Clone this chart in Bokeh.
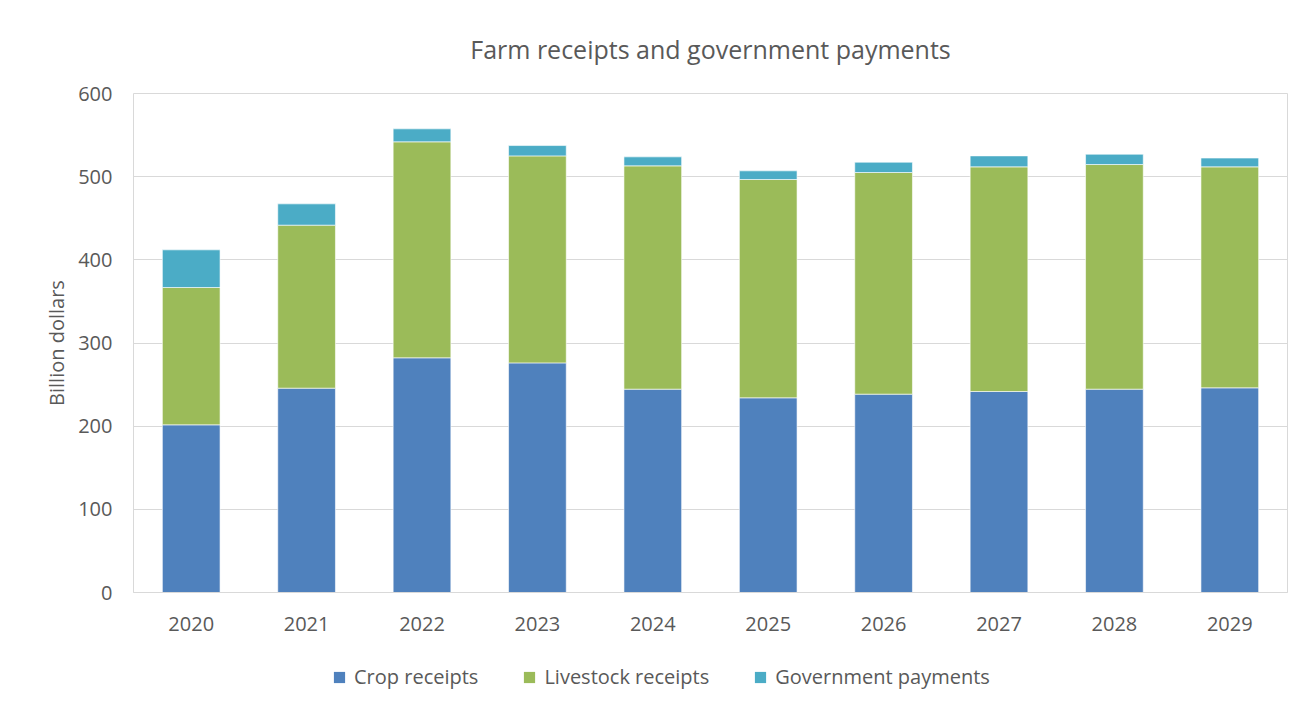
from bokeh.plotting import figure
from bokeh.layouts import column
from bokeh.models import FactorRange, Range1d, FixedTicker, Legend, LegendItem, Title
from bokeh.embed import file_html
from bokeh.resources import INLINE

years = ["2020", "2021", "2022", "2023", "2024", "2025", "2026", "2027", "2028", "2029"]
crop = [201.6, 245.7, 282.2, 276.1, 244.5, 234.1, 238.5, 241.7, 244.5, 246.1]
livestock = [165.1, 196.0, 259.7, 248.9, 268.5, 262.5, 266.5, 270.1, 270.1, 265.7]
government = [45.3, 25.6, 15.6, 12.4, 10.8, 10.4, 12.4, 13.2, 12.4, 10.6]
series = ["Crop receipts", "Livestock receipts", "Government payments"]
colors = ["#4F81BD", "#9BBB59", "#4BACC6"]
y_ticks = [0, 100, 200, 300, 400, 500, 600]

FONT = "Open Sans"
TXT = "#595959"

data = {"years": years, "crop": crop, "livestock": livestock, "government": government}
stack = ["crop", "livestock", "government"]

p = figure(x_range=FactorRange(*years, range_padding=0), y_range=Range1d(0, 600),
           width=1313, height=645, output_backend="svg", toolbar_location=None,
           min_border_left=133, min_border_right=26, min_border_top=93, min_border_bottom=53)

r = p.vbar_stack(stack, x="years", width=0.5, source=data,
                 color=colors, line_color="white", line_width=0.6)

p.title = Title(text="Farm receipts and government payments", align="center",
                text_font=FONT, text_font_size="25px", text_font_style="normal",
                text_color=TXT, offset=0, standoff=56)

p.outline_line_color = "#d9d9d9"
p.xgrid.grid_line_color = None
p.ygrid.grid_line_color = "#d9d9d9"
p.ygrid.grid_line_width = 1.2

p.yaxis.ticker = FixedTicker(ticks=y_ticks)
p.yaxis.axis_line_color = None
p.yaxis.major_tick_line_color = None
p.yaxis.minor_tick_line_color = None
p.yaxis.major_label_standoff = 15
p.yaxis.axis_label = "Billion dollars"
p.yaxis.axis_label_text_font = FONT
p.yaxis.axis_label_text_font_size = "20px"
p.yaxis.axis_label_text_font_style = "normal"
p.yaxis.axis_label_text_color = TXT
p.yaxis.axis_label_standoff = 5

p.xaxis.axis_line_color = "#d9d9d9"
p.xaxis.major_tick_line_color = None
p.xaxis.minor_tick_line_color = None
p.xaxis.major_label_standoff = 18

for ax in (p.xaxis, p.yaxis):
    ax.major_label_text_font = FONT
    ax.major_label_text_font_size = "20px"
    ax.major_label_text_color = TXT

# legend strip below the chart (its zero-width bars lie far outside its visible range)
lg = figure(width=1313, height=68, output_backend="svg", toolbar_location=None,
            x_range=FactorRange(*years), y_range=Range1d(-10000, -9999),
            min_border=0, min_border_left=0, min_border_right=0,
            min_border_top=0, min_border_bottom=0)
lg.axis.visible = False
lg.grid.visible = False
lg.outline_line_color = None
swatches = lg.vbar_stack(stack, x="years", width=0, source=data,
                         fill_color=colors, line_color=None)

legend = Legend(items=[LegendItem(label=s, renderers=[sw]) for s, sw in zip(series, swatches)],
                orientation="horizontal", location=(199, 23),
                label_text_font=FONT, label_text_font_size="20px", label_text_color=TXT,
                glyph_width=14, glyph_height=14, spacing=44, label_standoff=8,
                padding=6, margin=0,
                border_line_color=None, background_fill_alpha=0)
lg.add_layout(legend, "center")

open("out.html", "w").write(file_html(column(p, lg, spacing=0), INLINE))
